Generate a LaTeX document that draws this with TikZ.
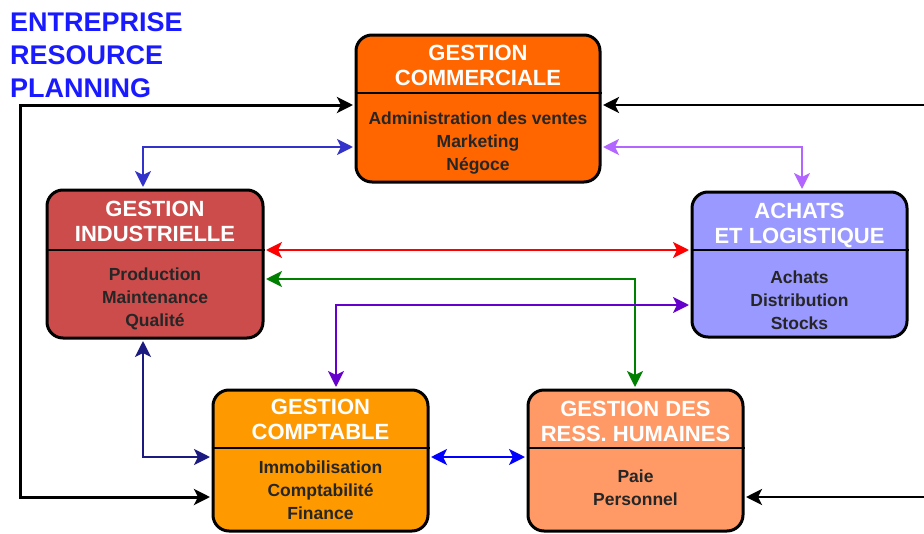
\documentclass[tikz,border=0pt]{standalone}
\usepackage{fontspec}
\setmainfont{Liberation Sans}
\usetikzlibrary{arrows.meta}
\definecolor{cGC}{HTML}{FF6600}
\definecolor{cGI}{HTML}{CC4C4C}
\definecolor{cAL}{HTML}{9999FF}
\definecolor{cCP}{HTML}{FF9900}
\definecolor{cRH}{HTML}{FF9966}
\definecolor{cTitle}{HTML}{1A1AFF}
\definecolor{aBlue}{HTML}{3333CC}
\definecolor{aLilac}{HTML}{B366FF}
\definecolor{aRed}{HTML}{FF0000}
\definecolor{aGreen}{HTML}{008000}
\definecolor{aViolet}{HTML}{6600CC}
\definecolor{aNavy}{HTML}{1A1A80}
\definecolor{aBlue2}{HTML}{0000FF}
\tikzset{
  box/.style={draw=black, line width=3pt, rounded corners=16pt, inner sep=0pt},
  divider/.style={draw=black, line width=1.5pt},
  head/.style={text=white, font=\bfseries\fontsize{22}{25}\selectfont, align=center, inner sep=0pt},
  body/.style={text=black!85, font=\bfseries\fontsize{17.5}{23}\selectfont, align=center, inner sep=0pt},
  tip/.tip={Stealth[length=16pt,width=16pt,inset=4pt]},
  conn/.style={line width=2.5pt, tip-tip, shorten >=1.5pt, shorten <=1.5pt},
  oneway/.style={line width=2.8pt, -tip, shorten >=1.5pt},
}
\begin{document}
\begin{tikzpicture}[x=1pt,y=-1pt]
\useasboundingbox (0,0) rectangle (924,533);
% title
\node[anchor=west, align=left, inner sep=0pt, text=cTitle, font=\bfseries\fontsize{27}{33}\selectfont] (title) at (10,55) {ENTREPRISE\\RESOURCE\\PLANNING};
% boxes
\node[box, fill=cGC, minimum width=244pt, minimum height=147pt] (gc) at (478,108.5) {};
\node[box, fill=cGI, minimum width=216pt, minimum height=148pt] (gi) at (155,264) {};
\node[box, fill=cAL, minimum width=215pt, minimum height=145pt] (al) at (799.5,264.5) {};
\node[box, fill=cCP, minimum width=215pt, minimum height=141pt] (cp) at (320.5,460.5) {};
\node[box, fill=cRH, minimum width=215pt, minimum height=141pt] (rh) at (635.5,460.5) {};
% dividers
\draw[divider] (gc.west |- 0,93) -- (gc.east |- 0,93);
\draw[divider] (gi.west |- 0,250) -- (gi.east |- 0,250);
\draw[divider] (al.west |- 0,250) -- (al.east |- 0,250);
\draw[divider] (cp.west |- 0,448) -- (cp.east |- 0,448);
\draw[divider] (rh.west |- 0,448) -- (rh.east |- 0,448);
% headers
\node[head] (gch) at (478,65.5) {GESTION\\COMMERCIALE};
\node[head] (gih) at (155,221.5) {GESTION\\INDUSTRIELLE};
\node[head] (alh) at (799.5,225) {ACHATS\\ET LOGISTIQUE};
\node[head] (cph) at (320.5,419.5) {GESTION\\COMPTABLE};
\node[head] (rhh) at (635.5,421.5) {GESTION DES\\RESS. HUMAINES};
% bodies
\node[body] (gcb) at (478,143) {Administration des ventes\\Marketing\\Négoce};
\node[body] (gib) at (155,298.5) {Production\\Maintenance\\Qualité};
\node[body] (alb) at (799.5,300) {Achats\\Distribution\\Stocks};
\node[body] (cpb) at (320.5,490) {Immobilisation\\Comptabilité\\Finance};
\node[body] (rhb) at (635.5,487.5) {Paie\\Personnel};
% helper coordinates
\coordinate (bl1) at (20,105);
\coordinate (bl2) at (20,497);
\coordinate (r1) at (924,105);
\coordinate (r2) at (924,497);
\coordinate (b1) at (143,147);
\coordinate (l1) at (802,147);
\coordinate (rd) at (480,250);
\coordinate (g1) at (635,279);
\coordinate (v1) at (336,305);
\coordinate (n1) at (143,457);
\coordinate (bb) at (478,457);
% connectors
\draw[conn, black, line width=3pt] (gc.west |- bl1) -- (bl1) -- (bl2) -- (cp.west |- bl2);
\draw[oneway, black] (r1) -- (gc.east |- r1);
\draw[oneway, black] (r2) -- (rh.east |- r2);
\draw[conn, aBlue] (gc.west |- b1) -- (b1) -- (b1 |- gi.north);
\draw[conn, aLilac] (gc.east |- l1) -- (l1) -- (l1 |- al.north);
\draw[conn, aRed] (gi.east |- rd) -- (al.west |- rd);
\draw[conn, aGreen] (gi.east |- g1) -- (g1) -- (g1 |- rh.north);
\draw[conn, aViolet] (al.west |- v1) -- (v1) -- (v1 |- cp.north);
\draw[conn, aNavy] (n1 |- gi.south) -- (n1) -- (cp.west |- n1);
\draw[conn, aBlue2] (cp.east |- bb) -- (rh.west |- bb);
\end{tikzpicture}
\end{document}
